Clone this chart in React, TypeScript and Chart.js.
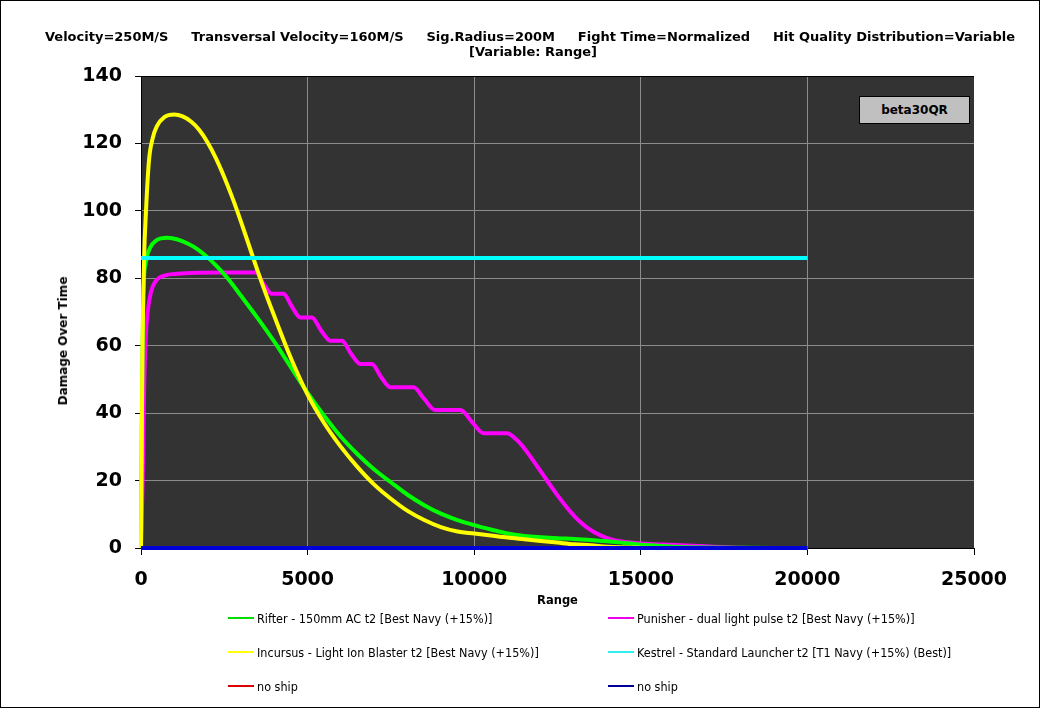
import React, { useEffect, useRef } from "react";
import { Chart, registerables } from "chart.js";

Chart.register(...registerables);

// ---------- data ----------
const titleParts = [
  "Velocity=250M/S",
  "Transversal Velocity=160M/S",
  "Sig.Radius=200M",
  "Fight Time=Normalized",
  "Hit Quality Distribution=Variable",
];
const subTitle = "[Variable: Range]";
const badgeText = "beta30QR";
const xAxisTitle = "Range";
const yAxisTitle = "Damage Over Time";

const xTickValues = [0, 5000, 10000, 15000, 20000, 25000];
const yTickValues = [0, 20, 40, 60, 80, 100, 120, 140];

const seriesLabels = [
  "Rifter - 150mm AC t2 [Best Navy (+15%)]",
  "Punisher - dual light pulse t2 [Best Navy (+15%)]",
  "Incursus - Light Ion Blaster t2 [Best Navy (+15%)]",
  "Kestrel - Standard Launcher t2 [T1 Navy (+15%) (Best)]",
  "no ship",
  "no ship",
];

const rifterRange = [0, 30, 70, 150, 270, 450, 800, 1100, 1400, 1700, 2000, 2300, 2600, 3000, 3500, 4000, 4500, 5000, 5500, 6000, 6500, 7000, 7500, 8000, 8500, 9000, 9500, 10000, 10500, 11000, 11500, 12000, 12500, 13000, 13500, 14000, 14500, 15000, 15500, 16000, 17000, 18000, 19000, 20000];
const rifterDot = [0, 45, 75, 85, 89, 91.2, 92, 91.5, 90.3, 88.6, 86.2, 83.3, 80, 74.8, 68.2, 61.2, 53.6, 46, 39.2, 33, 27.8, 23.3, 19.5, 15.8, 12.7, 10.2, 8.3, 6.8, 5.5, 4.3, 3.6, 3.2, 2.9, 2.7, 2.4, 2.0, 1.5, 1.0, 0.7, 0.4, 0.15, 0.05, 0, 0];

const punisherRange = [0, 50, 90, 140, 200, 300, 450, 700, 1000, 1500, 2500, 3450, 3700, 3925, 4275, 4530, 4780, 5130, 5400, 5680, 6030, 6300, 6580, 6930, 7200, 7480, 8180, 8500, 8830, 9585, 9950, 10285, 10985, 11250, 11500, 11850, 12200, 12500, 12800, 13100, 13400, 13800, 14200, 14600, 15000, 15600, 16200, 17200, 18000, 19000, 20000];
const punisherDot = [0, 20, 45, 62, 70, 76, 79.3, 80.8, 81.3, 81.6, 81.7, 81.7, 78, 75.4, 75.4, 71.6, 68.4, 68.4, 64.6, 61.5, 61.5, 57.7, 54.6, 54.6, 50.8, 47.7, 47.7, 44.2, 40.9, 40.9, 37.2, 34.0, 34.0, 32.3, 29.6, 24.8, 19.8, 15.6, 11.8, 8.5, 6.0, 3.7, 2.3, 1.7, 1.35, 1.05, 0.85, 0.4, 0.1, 0, 0];

const incursusRange = [0, 40, 90, 150, 240, 350, 470, 700, 1000, 1250, 1500, 1750, 2000, 2250, 2500, 2750, 3000, 3250, 3500, 3750, 4000, 4500, 5000, 5500, 6000, 6500, 7000, 7500, 8000, 8500, 9000, 9500, 10000, 10500, 11000, 11500, 12000, 12500, 13000, 13500, 14000, 15000, 16000, 20000];
const incursusDot = [0, 55, 85, 100, 115, 121.5, 125, 127.8, 128.6, 128.0, 126.5, 124, 120.3, 115.6, 110, 103.7, 96.8, 89.5, 82.2, 75.3, 68.8, 56.3, 45.5, 37, 30, 24, 18.8, 14.6, 11, 8.3, 6.2, 4.9, 4.3, 3.7, 3.1, 2.6, 2.1, 1.6, 1.1, 0.8, 0.4, 0.1, 0, 0];

const kestrelRange = [0, 20000];
const kestrelDot = [86, 86];

const noShipRedRange = [0, 20000];
const noShipRedDot = [0, 0];

const noShipBlueRange = [0, 20000];
const noShipBlueDot = [0, 0];

const seriesRanges = [rifterRange, punisherRange, incursusRange, kestrelRange, noShipRedRange, noShipBlueRange];
const seriesValues = [rifterDot, punisherDot, incursusDot, kestrelDot, noShipRedDot, noShipBlueDot];

// ---------- styles ----------
const seriesColors = ["#00ff00", "#ff00ff", "#ffff00", "#00ffff", "#dd0000", "#0000d8"];
const legendColors = ["#00dd00", "#ee00ee", "#ffff00", "#33eeee", "#dd0000", "#000099"];
const drawOrder = [4, 5, 3, 2, 1, 0];

const BOLD = '"DejaVu Sans", Verdana, sans-serif';
const LEGEND_FONT = '"DejaVu Sans Condensed", "DejaVu Sans", Tahoma, sans-serif';

const legendCols = [228, 608];
const legendRows = [618, 652, 686];

export default function App() {
  const ref = useRef<HTMLCanvasElement>(null);

  useEffect(() => {
    const canvas = ref.current;
    if (!canvas) return;

    const bgPlugin = {
      id: "plotBg",
      beforeDraw(chart: any) {
        const { ctx, chartArea: a } = chart;
        ctx.save();
        ctx.fillStyle = "#ffffff";
        ctx.fillRect(0, 0, chart.width, chart.height);
        ctx.fillStyle = "#333333";
        ctx.fillRect(a.left, a.top, a.right - a.left, a.bottom - a.top);
        ctx.restore();
      },
    };

    const datasets = seriesLabels.map((label, i) => ({
      label,
      data: seriesRanges[i].map((x, j) => ({ x, y: seriesValues[i][j] })),
      borderColor: seriesColors[i],
      backgroundColor: seriesColors[i],
      borderWidth: 4,
      pointRadius: 0,
      pointHoverRadius: 0,
      fill: false,
      cubicInterpolationMode: "monotone" as const,
      order: drawOrder[i],
      clip: 4,
    }));

    const chart = new Chart(canvas, {
      type: "line",
      data: { datasets },
      plugins: [bgPlugin],
      options: {
        animation: false,
        responsive: false,
        maintainAspectRatio: false,
        events: [],
        layout: { padding: { left: 56, right: 66, top: 76, bottom: 100 } },
        plugins: {
          legend: { display: false },
          title: { display: false },
          tooltip: { enabled: false },
        },
        scales: {
          x: {
            type: "linear",
            min: 0,
            max: 25000,
            afterBuildTicks: (s: any) => {
              s.ticks = xTickValues.map((v) => ({ value: v }));
            },
            afterFit: (s: any) => {
              s.height = 60;
            },
            ticks: {
              color: "#000",
              padding: 14,
              maxRotation: 0,
              autoSkip: false,
              font: { family: BOLD, size: 19, weight: "bold" },
              callback: (v: any) => String(v),
            },
            grid: {
              color: (c: any) =>
                c.tick && (c.tick.value === 0 || c.tick.value === 25000) ? "rgba(0,0,0,0)" : "#8c8c8c",
              lineWidth: 1,
              tickLength: 7,
              tickColor: "#000",
            },
            border: { display: true, color: "#000", width: 1 },
            title: {
              display: true,
              text: xAxisTitle,
              color: "#000",
              padding: 0,
              font: { family: BOLD, size: 11.5, weight: "bold" },
            },
          },
          y: {
            type: "linear",
            min: 0,
            max: 140,
            afterBuildTicks: (s: any) => {
              s.ticks = yTickValues.map((v) => ({ value: v }));
            },
            afterFit: (s: any) => {
              s.width = 85;
            },
            ticks: {
              color: "#000",
              padding: 13,
              autoSkip: false,
              font: { family: BOLD, size: 19, weight: "bold" },
              callback: (v: any) => String(v),
            },
            grid: {
              color: (c: any) =>
                c.tick && c.tick.value === 140 ? "#000" : c.tick && c.tick.value === 0 ? "rgba(0,0,0,0)" : "#8c8c8c",
              lineWidth: 1,
              tickLength: 6,
              tickColor: "#000",
            },
            border: { display: true, color: "#000", width: 1 },
          },
        },
      } as any,
    });

    return () => chart.destroy();
  }, []);

  const legendItems = seriesLabels.map((label, i) => {
    const col = i % 2;
    const row = Math.floor(i / 2);
    return (
      <div
        key={i}
        style={{
          position: "absolute",
          left: legendCols[col],
          top: legendRows[row] - 9,
          height: 18,
          display: "flex",
          alignItems: "center",
          whiteSpace: "pre",
          fontFamily: LEGEND_FONT,
          fontSize: 12.5,
          color: "#000",
        }}
      >
        <span style={{ display: "inline-block", width: 26, height: 2, background: legendColors[i] }} />
        <span style={{ marginLeft: 3 }}>{label}</span>
      </div>
    );
  });

  return (
    <div style={{ position: "absolute", left: 0, top: 0, width: 1040, height: 708, background: "#fff", overflow: "hidden" }}>
      <canvas ref={ref} width={1040} height={708} style={{ position: "absolute", left: 0, top: 0, width: 1040, height: 708 }} />
      <div
        style={{
          position: "absolute",
          left: 45,
          width: 970,
          top: 29,
          display: "flex",
          justifyContent: "space-between",
          fontFamily: BOLD,
          fontWeight: "bold",
          fontSize: 13,
          lineHeight: "16px",
          color: "#000",
          whiteSpace: "pre",
        }}
      >
        {titleParts.map((t, i) => (
          <span key={i}>{t}</span>
        ))}
      </div>
      <div
        style={{
          position: "absolute",
          left: 383,
          width: 300,
          top: 44,
          textAlign: "center",
          fontFamily: BOLD,
          fontWeight: "bold",
          fontSize: 13,
          lineHeight: "16px",
          color: "#000",
          whiteSpace: "pre",
        }}
      >
        {subTitle}
      </div>
      <div
        style={{
          position: "absolute",
          left: 63,
          top: 341,
          transform: "translate(-50%, -50%) rotate(-90deg)",
          fontFamily: BOLD,
          fontWeight: "bold",
          fontSize: 12,
          whiteSpace: "nowrap",
          color: "#000",
        }}
      >
        {yAxisTitle}
      </div>
      <div
        style={{
          position: "absolute",
          left: 859,
          top: 96,
          width: 111,
          height: 28,
          boxSizing: "border-box",
          border: "1px solid #000",
          background: "#c0c0c0",
          display: "flex",
          alignItems: "center",
          justifyContent: "center",
          fontFamily: BOLD,
          fontWeight: "bold",
          fontSize: 12,
          color: "#000",
        }}
      >
        {badgeText}
      </div>
      {legendItems}
      <div
        style={{
          position: "absolute",
          left: 0,
          top: 0,
          width: 1040,
          height: 708,
          boxSizing: "border-box",
          border: "1px solid #000",
          pointerEvents: "none",
        }}
      />
    </div>
  );
}
